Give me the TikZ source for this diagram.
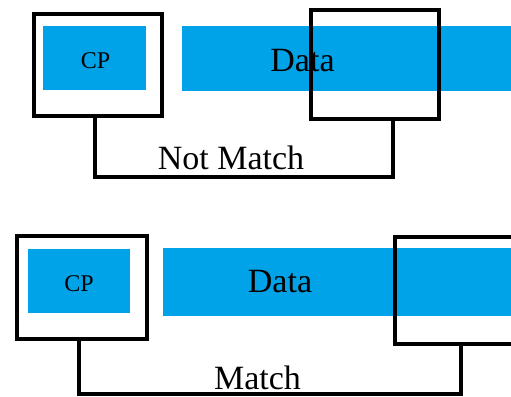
\documentclass[tikz,border=0pt]{standalone}
\usepackage{fontspec}
\setmainfont{Liberation Serif}
\definecolor{pktblue}{HTML}{00A2E8}
\begin{document}
\begin{tikzpicture}[x=1pt,y=-1pt,
  field/.style={fill=pktblue,draw=none,inner sep=0pt,anchor=north west},
  window/.style={draw=black,line width=3.6pt,inner sep=0pt,anchor=north west,fill=none},
  link/.style={draw=black,line width=3.6pt,line join=miter},
  bigtext/.style={font=\fontsize{34}{40}\selectfont,inner sep=0pt,anchor=base},
  smalltext/.style={font=\fontsize{24}{28}\selectfont,inner sep=0pt,anchor=base}]
\useasboundingbox (0,0) rectangle (511,396);
% ---------- top: Not Match ----------
\node[field,minimum width=103pt,minimum height=64pt] (cp1) at (43,26) {};
\node[field,minimum width=340pt,minimum height=65pt] (data1) at (182,26) {};
\node[smalltext] (cp1t) at (95.5,69) {CP};
\node[bigtext] (data1t) at (302.5,71) {Data};
\node[window,minimum width=128pt,minimum height=102pt] (win1a) at (32,12) {};
\node[window,minimum width=128pt,minimum height=109pt] (win1b) at (309,8) {};
\coordinate (c1a) at (95,177);
\coordinate (c1b) at (393,177);
\draw[link] (win1a.south -| c1a) -- (c1a) -- (c1b) -- (win1b.south -| c1b);
\node[bigtext] (nm) at (231,169) {Not Match};
% ---------- bottom: Match ----------
\node[field,minimum width=102pt,minimum height=64pt] (cp2) at (28,249) {};
\node[field,minimum width=360pt,minimum height=68pt] (data2) at (163,248) {};
\node[smalltext] (cp2t) at (79,291.5) {CP};
\node[bigtext] (data2t) at (280,292) {Data};
\node[window,minimum width=130pt,minimum height=103pt] (win2a) at (15,234) {};
\node[window,minimum width=140pt,minimum height=107pt] (win2b) at (393,235) {};
\coordinate (c2a) at (79,394);
\coordinate (c2b) at (461,394);
\draw[link] (win2a.south -| c2a) -- (c2a) -- (c2b) -- (win2b.south -| c2b);
\node[bigtext] (m) at (257.5,389) {Match};
\end{tikzpicture}
\end{document}
